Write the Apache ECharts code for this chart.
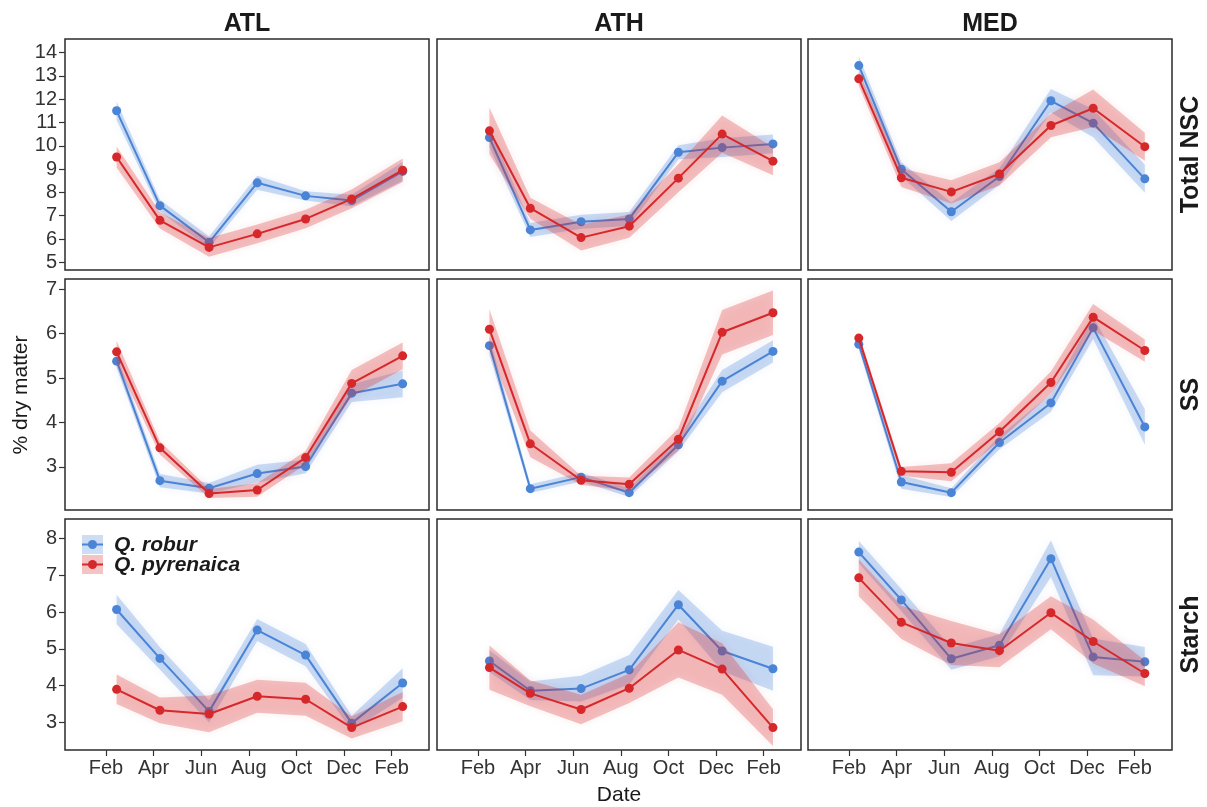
<!DOCTYPE html>
<html>
<head>
<meta charset="utf-8">
<script src="https://cdn.jsdelivr.net/npm/echarts@6/dist/echarts.min.js"></script>
<style>html,body{margin:0;padding:0;background:#fff;}#c{width:1207px;height:807px;}</style>
</head>
<body>
<div id="c"></div>
<script>
// ---------- DATA ----------
const sites = ['ATL', 'ATH', 'MED'];
const variables = ['Total NSC', 'SS', 'Starch'];
const species = ['Q. robur', 'Q. pyrenaica'];
const monthTicks = ['Feb', 'Apr', 'Jun', 'Aug', 'Oct', 'Dec', 'Feb'];

const datesATL = ['2016-02-14', '2016-04-09', '2016-06-11', '2016-08-12', '2016-10-13', '2016-12-11', '2017-02-14'];
const datesATH = ['2016-02-15', '2016-04-07', '2016-06-11', '2016-08-12', '2016-10-14', '2016-12-09', '2017-02-12'];
const datesMED = ['2016-02-13', '2016-04-07', '2016-06-10', '2016-08-11', '2016-10-16', '2016-12-09', '2017-02-13'];

const yTicksNSC = [5, 6, 7, 8, 9, 10, 11, 12, 13, 14];
const yTicksSS = [3, 4, 5, 6, 7];
const yTicksStarch = [3, 4, 5, 6, 7, 8];

// Total NSC
const nscATL_rob = [11.50, 7.43, 5.86, 8.41, 7.85, 7.65, 8.90];
const nscATL_pyr = [9.52, 6.80, 5.64, 6.22, 6.86, 7.72, 8.95];
const nscATH_rob = [10.35, 6.39, 6.74, 6.86, 9.72, 9.92, 10.08];
const nscATH_pyr = [10.64, 7.32, 6.06, 6.55, 8.61, 10.50, 9.34];
const nscMED_rob = [13.44, 8.99, 7.17, 8.68, 11.93, 10.97, 8.58];
const nscMED_pyr = [12.87, 8.63, 8.02, 8.79, 10.87, 11.61, 9.96];
// SS
const ssATL_rob = [5.38, 2.69, 2.52, 2.85, 3.01, 4.66, 4.87];
const ssATL_pyr = [5.59, 3.43, 2.40, 2.48, 3.21, 4.88, 5.50];
const ssATH_rob = [5.73, 2.51, 2.77, 2.42, 3.50, 4.93, 5.60];
const ssATH_pyr = [6.10, 3.52, 2.70, 2.61, 3.62, 6.03, 6.47];
const ssMED_rob = [5.76, 2.66, 2.42, 3.55, 4.44, 6.13, 3.90];
const ssMED_pyr = [5.90, 2.90, 2.88, 3.79, 4.90, 6.37, 5.62];
// Starch
const stATL_rob = [6.07, 4.74, 3.30, 5.51, 4.83, 2.98, 4.07];
const stATL_pyr = [3.90, 3.33, 3.23, 3.71, 3.63, 2.86, 3.43];
const stATH_rob = [4.67, 3.86, 3.92, 4.43, 6.20, 4.94, 4.46];
const stATH_pyr = [4.49, 3.79, 3.35, 3.93, 4.97, 4.45, 2.86];
const stMED_rob = [7.63, 6.33, 4.73, 5.10, 7.45, 4.78, 4.65];
const stMED_pyr = [6.93, 5.72, 5.16, 4.95, 5.98, 5.20, 4.33];

// Ribbon half-widths (estimated)
const nscATL_rob_ci = [0.40, 0.25, 0.25, 0.30, 0.20, 0.25, 0.40];
const nscATL_pyr_ci = [0.45, 0.35, 0.40, 0.40, 0.40, 0.40, 0.50];
const nscATH_rob_ci = [0.40, 0.30, 0.30, 0.30, 0.30, 0.40, 0.40];
const nscATH_pyr_ci = [1.00, 0.45, 0.55, 0.50, 0.60, 0.80, 0.60];
const nscMED_rob_ci = [0.40, 0.30, 0.40, 0.35, 0.50, 0.60, 0.60];
const nscMED_pyr_ci = [0.30, 0.40, 0.50, 0.50, 0.50, 0.80, 0.60];
const ssATL_rob_ci = [0.15, 0.15, 0.12, 0.20, 0.15, 0.20, 0.30];
const ssATL_pyr_ci = [0.25, 0.15, 0.10, 0.15, 0.15, 0.30, 0.30];
const ssATH_rob_ci = [0.20, 0.10, 0.10, 0.10, 0.15, 0.25, 0.25];
const ssATH_pyr_ci = [0.45, 0.30, 0.10, 0.15, 0.25, 0.50, 0.50];
const ssMED_rob_ci = [0.10, 0.15, 0.10, 0.15, 0.20, 0.25, 0.40];
const ssMED_pyr_ci = [0.10, 0.10, 0.20, 0.20, 0.25, 0.30, 0.25];
const stATL_rob_ci = [0.40, 0.30, 0.30, 0.30, 0.30, 0.20, 0.40];
const stATL_pyr_ci = [0.40, 0.35, 0.50, 0.45, 0.45, 0.30, 0.40];
const stATH_rob_ci = [0.30, 0.25, 0.35, 0.40, 0.40, 0.55, 0.60];
const stATH_pyr_ci = [0.60, 0.35, 0.40, 0.40, 0.75, 0.70, 0.50];
const stMED_rob_ci = [0.30, 0.30, 0.30, 0.30, 0.50, 0.50, 0.40];
const stMED_pyr_ci = [0.50, 0.45, 0.60, 0.45, 0.45, 0.60, 0.35];

// ---------- STRUCTURE ----------
const siteDates = [datesATL, datesATH, datesMED];
const rowTicks = [yTicksNSC, yTicksSS, yTicksStarch];
const rowRange = [[4.67, 14.58], [2.03, 7.23], [2.25, 8.53]];
const panelData = [
  [[nscATL_rob, nscATL_pyr, nscATL_rob_ci, nscATL_pyr_ci], [nscATH_rob, nscATH_pyr, nscATH_rob_ci, nscATH_pyr_ci], [nscMED_rob, nscMED_pyr, nscMED_rob_ci, nscMED_pyr_ci]],
  [[ssATL_rob, ssATL_pyr, ssATL_rob_ci, ssATL_pyr_ci], [ssATH_rob, ssATH_pyr, ssATH_rob_ci, ssATH_pyr_ci], [ssMED_rob, ssMED_pyr, ssMED_rob_ci, ssMED_pyr_ci]],
  [[stATL_rob, stATL_pyr, stATL_rob_ci, stATL_pyr_ci], [stATH_rob, stATH_pyr, stATH_rob_ci, stATH_pyr_ci], [stMED_rob, stMED_pyr, stMED_rob_ci, stMED_pyr_ci]]
];

const colors = ['#4a84d6', '#d6282b'];
const bandColors = ['rgba(74,132,214,0.28)', 'rgba(214,40,43,0.28)'];
const FONT = '"Liberation Sans", Arial, Helvetica, sans-serif';
const xTickVals = monthTicks.map((_, i) => i * 2);

function monthOffset(s) {
  const [y, m, d] = s.split('-').map(Number);
  const dim = new Date(y, m, 0).getDate();
  return (y - 2016) * 12 + (m - 2) + (d - 1) / dim;
}

const colLeft = [65, 437, 808];
const rowTop = [39, 279, 519];
const PW = 364, PH = 231;

const grids = [], xAxes = [], yAxes = [], series = [];
let p = 0;
for (let r = 0; r < 3; r++) {
  for (let c = 0; c < 3; c++) {
    grids.push({
      left: colLeft[c], top: rowTop[r], width: PW, height: PH,
      show: true, borderColor: '#2b2b2b', borderWidth: 1.5, backgroundColor: 'transparent'
    });
    const bottom = r === 2;
    xAxes.push({
      type: 'value', gridIndex: p, min: -1.72, max: 13.57, position: 'bottom',
      axisLine: { show: false, onZero: false },
      splitLine: { show: false },
      axisTick: { show: bottom, length: 6, lineStyle: { color: '#333', width: 1.2 }, customValues: xTickVals },
      axisLabel: {
        show: bottom, margin: 8, color: '#333', fontSize: 20, fontFamily: FONT,
        customValues: xTickVals,
        formatter: v => monthTicks[Math.round(v / 2)]
      }
    });
    const left = c === 0;
    yAxes.push({
      type: 'value', gridIndex: p, min: rowRange[r][0], max: rowRange[r][1], position: 'left',
      axisLine: { show: false, onZero: false },
      splitLine: { show: false },
      axisTick: { show: left, length: 6, lineStyle: { color: '#333', width: 1.2 }, customValues: rowTicks[r] },
      axisLabel: {
        show: left, margin: 8, color: '#333', fontSize: 20, fontFamily: FONT,
        customValues: rowTicks[r]
      }
    });
    const xs = siteDates[c].map(monthOffset);
    const d = panelData[r][c];
    for (let s = 0; s < 2; s++) {
      const vals = d[s], ci = d[s + 2];
      const band = xs.map((x, i) => [x, vals[i] - ci[i], vals[i] + ci[i]]);
      series.push({
        type: 'custom', name: species[s] + ' band', xAxisIndex: p, yAxisIndex: p,
        z: 1 + s * 2, silent: true,
        encode: { x: 0, y: [1, 2] },
        data: band,
        renderItem: (params, api) => {
          if (params.dataIndex !== 0) return null;
          const up = band.map(b => api.coord([b[0], b[2]]));
          const lo = band.map(b => api.coord([b[0], b[1]])).reverse();
          return {
            type: 'polygon',
            shape: { points: up.concat(lo) },
            style: { fill: bandColors[s], shadowBlur: 8, shadowColor: bandColors[s] }
          };
        }
      });
      series.push({
        type: 'line', name: species[s], xAxisIndex: p, yAxisIndex: p,
        z: 2 + s * 2,
        data: xs.map((x, i) => [x, vals[i]]),
        symbol: 'circle', symbolSize: 9, showSymbol: true,
        lineStyle: { color: colors[s], width: 2 },
        itemStyle: { color: colors[s] },
        animation: false
      });
    }
    p++;
  }
}

const graphic = [];
sites.forEach((s, c) => {
  graphic.push({
    type: 'text', x: colLeft[c] + PW / 2, y: 24,
    style: { text: s, font: 'bold 25px ' + FONT, fill: '#1a1a1a', textAlign: 'center', textVerticalAlign: 'middle' }
  });
});
variables.forEach((v, r) => {
  graphic.push({
    type: 'text', x: 1191, y: rowTop[r] + PH / 2, rotation: Math.PI / 2,
    style: { text: v, font: 'bold 25px ' + FONT, fill: '#1a1a1a', textAlign: 'center', textVerticalAlign: 'middle' }
  });
});
graphic.push({
  type: 'text', x: 21, y: 395, rotation: Math.PI / 2,
  style: { text: '% dry matter', font: '21px ' + FONT, fill: '#1a1a1a', textAlign: 'center', textVerticalAlign: 'middle' }
});
graphic.push({
  type: 'text', x: 619, y: 795,
  style: { text: 'Date', font: '21px ' + FONT, fill: '#1a1a1a', textAlign: 'center', textVerticalAlign: 'middle' }
});
// legend
species.forEach((sp, i) => {
  const cy = 544.5 + i * 20;
  graphic.push({ type: 'rect', shape: { x: 82, y: cy - 9.5, width: 21, height: 19 }, style: { fill: bandColors[i] }, z: 10 });
  graphic.push({ type: 'line', shape: { x1: 82, y1: cy, x2: 103, y2: cy }, style: { stroke: colors[i], lineWidth: 2 }, z: 11 });
  graphic.push({ type: 'circle', shape: { cx: 92.5, cy: cy, r: 4.5 }, style: { fill: colors[i] }, z: 12 });
  graphic.push({
    type: 'text', x: 114, y: cy + 1, z: 12,
    style: { text: sp, font: 'italic bold 21px ' + FONT, fill: '#1a1a1a', textAlign: 'left', textVerticalAlign: 'middle' }
  });
});

const chart = echarts.init(document.getElementById('c'), null, { renderer: 'canvas' });
chart.setOption({
  animation: false,
  backgroundColor: '#fff',
  grid: grids,
  xAxis: xAxes,
  yAxis: yAxes,
  series: series,
  graphic: graphic
});
</script>
</body>
</html>
